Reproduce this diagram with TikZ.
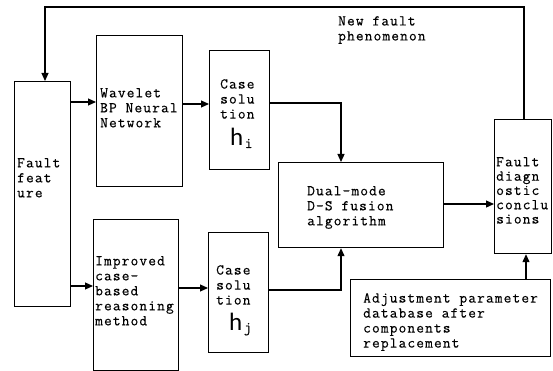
\documentclass[tikz,border=0pt]{standalone}
\usepackage{fontspec}
\setmainfont{Latin Modern Mono}[LetterSpace=7.5, FakeBold=0.4]
\newfontfamily\hfont{Carlito}
\usetikzlibrary{arrows.meta}
\tikzset{
  box/.style={draw, line width=1.2pt, inner sep=0pt},
  txt/.style={inner sep=0pt, anchor=north west, align=left,
    font=\fontsize{15}{15}\selectfont},
  conn/.style={line width=1.2pt},
  arr/.style={conn, -{Triangle[length=8pt,width=7pt]}},
  hsym/.style={inner sep=0pt, anchor=base west, font=\hfont\fontsize{25}{25}\selectfont}
}
\newcommand{\hsub}[1]{\hspace{1.5pt}\raisebox{-2pt}{\fontsize{15}{15}\selectfont\rmfamily #1}}
\begin{document}
\begin{tikzpicture}[x=1pt, y=-1pt]
  \useasboundingbox (0,0) rectangle (553,371);
  % boxes
  \node[box, minimum width=56pt, minimum height=225pt, anchor=north west] (fft) at (14,81) {};
  \node[box, minimum width=86pt, minimum height=151pt, anchor=north west] (wav) at (96,35) {};
  \node[box, minimum width=60pt, minimum height=119pt, anchor=north west] (csi) at (209,50) {};
  \node[box, minimum width=85pt, minimum height=151pt, anchor=north west] (imp) at (93,219) {};
  \node[box, minimum width=60pt, minimum height=120pt, anchor=north west] (csj) at (208,232) {};
  \node[box, minimum width=165pt, minimum height=85pt, anchor=north west] (ds) at (278,162) {};
  \node[box, minimum width=57pt, minimum height=134pt, anchor=north west] (fdc) at (494,119) {};
  \node[box, minimum width=200pt, minimum height=77pt, anchor=north west] (adj) at (350,279) {};

  % texts
  \node[txt] (t1) at (17,158) {Fault\\feat\\ure};
  \node[txt] (t2) at (100,88) {Wavelet\\BP Neural\\Network};
  \node[txt] (t3) at (220,79) {Case\\solu\\tion};
  \node[hsym] (hi) at (230,146) {h\hsub{i}};
  \node[txt] (t4) at (95,256) {Improved\\case-\\based\\reasoning\\method};
  \node[txt] (t5) at (216,265) {Case\\solu\\tion};
  \node[hsym] (hj) at (229,330) {h\hsub{j}};
  \node[txt] (t6) at (307,186) {Dual-mode\\D-S fusion\\algorithm};
  \node[txt, font=\fontsize{15}{14.3}\selectfont] (t7) at (496,157) {Fault\\diagn\\ostic\\conclu\\sions};
  \node[txt] (t8) at (363,293) {Adjustment parameter\\database after\\components\\replacement};
  \node[txt] (t9) at (338,16) {New fault\\phenomenon};

  % connectors
  \draw[arr] (fdc.north -| 524,0) -- (524,7) -- (45,7) -- (fft.north -| 45,0);
  \draw[arr] (fft.east |- 0,102) -- (wav.west |- 0,102);
  \draw[arr] (wav.east |- 0,104) -- (csi.west |- 0,104);
  \draw[arr] (fft.east |- 0,286) -- (imp.west |- 0,286);
  \draw[arr] (imp.east |- 0,288) -- (csj.west |- 0,288);
  \draw[arr] (csi.east |- 0,103) -- (341,103) -- (ds.north -| 341,0);
  \draw[arr] (csj.east |- 0,290) -- (341,290) -- (ds.south -| 341,0);
  \draw[arr] (ds.east |- 0,204) -- (fdc.west |- 0,204);
  \draw[arr] (adj.north -| 526,0) -- (fdc.south -| 526,0);
\end{tikzpicture}
\end{document}
